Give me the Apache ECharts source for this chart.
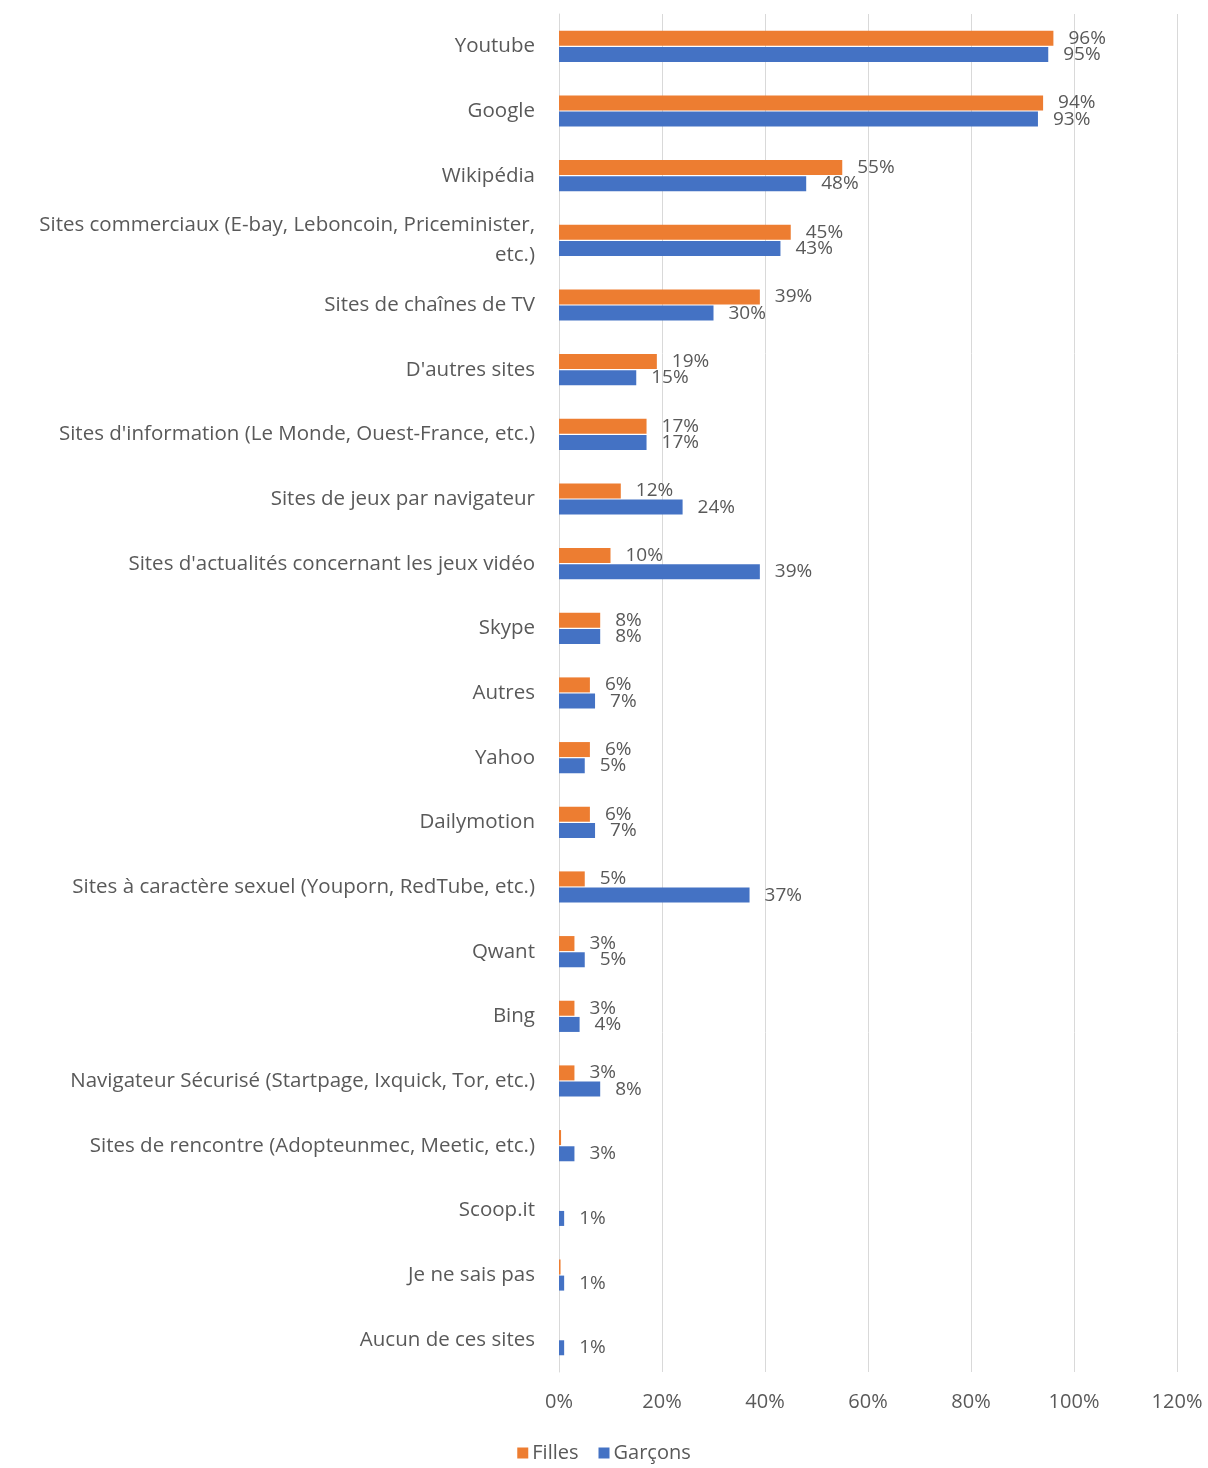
<!DOCTYPE html>
<html>
<head>
<meta charset="utf-8">
<script src="https://cdn.jsdelivr.net/npm/echarts@6/dist/echarts.min.js"></script>
<style>
html,body{margin:0;padding:0;background:#fff;}
#chart{width:1208px;height:1468px;}
</style>
</head>
<body>
<div id="chart"></div>
<script>
const categories = [
  "Youtube",
  "Google",
  "Wikipédia",
  "Sites commerciaux (E-bay, Leboncoin, Priceminister,\netc.)",
  "Sites de chaînes de TV",
  "D'autres sites",
  "Sites d'information (Le Monde, Ouest-France, etc.)",
  "Sites de jeux par navigateur",
  "Sites d'actualités concernant les jeux vidéo",
  "Skype",
  "Autres",
  "Yahoo",
  "Dailymotion",
  "Sites à caractère sexuel (Youporn, RedTube, etc.)",
  "Qwant",
  "Bing",
  "Navigateur Sécurisé (Startpage, Ixquick, Tor, etc.)",
  "Sites de rencontre (Adopteunmec, Meetic, etc.)",
  "Scoop.it",
  "Je ne sais pas",
  "Aucun de ces sites"
];
const filles  = [96, 94, 55, 45, 39, 19, 17, 12, 10, 8, 6, 6, 6, 5, 3, 3, 3, 0.4, 0, 0.3, 0];
const garcons = [95, 93, 48, 43, 30, 15, 17, 24, 39, 8, 7, 5, 7, 37, 5, 4, 8, 3, 1, 1, 1];
const xTicks = [0, 20, 40, 60, 80, 100, 120];

const FONT = "'Open Sans', sans-serif";
const TXT = "#595959";

const chart = echarts.init(document.getElementById('chart'));
function lbl() {
  return {
    show: true,
    position: 'right',
    distance: 15,
    color: TXT,
    fontFamily: FONT,
    fontSize: 19,
    formatter: p => p.value >= 1 ? p.value + '%' : ''
  };
}
chart.setOption({
  animation: false,
  textStyle: { fontFamily: FONT },
  grid: { left: 559, right: 31, top: 14, bottom: 96, containLabel: false },
  legend: {
    data: ['Filles', 'Garçons'],
    bottom: 0,
    left: 'center',
    itemWidth: 11,
    itemHeight: 11,
    itemGap: 20,
    icon: 'rect',
    textStyle: { color: TXT, fontSize: 20, fontFamily: FONT, padding: [0, 0, 0, -1] }
  },
  xAxis: {
    type: 'value',
    min: xTicks[0],
    max: xTicks[xTicks.length - 1],
    interval: 20,
    axisLine: { show: false },
    axisTick: { show: false },
    splitLine: { show: true, lineStyle: { color: '#d9d9d9', width: 1 } },
    axisLabel: { color: TXT, fontSize: 20, fontFamily: FONT, margin: 20, formatter: v => v + '%' }
  },
  yAxis: {
    type: 'category',
    inverse: true,
    data: categories,
    axisLine: { show: true, lineStyle: { color: '#d9d9d9', width: 1 } },
    axisTick: { show: false },
    axisLabel: { color: TXT, fontSize: 20.5, fontFamily: FONT, margin: 24, lineHeight: 30 }
  },
  series: [
    {
      name: 'Filles', type: 'bar', data: filles,
      barWidth: 15, barGap: '8%',
      itemStyle: { color: '#ED7D31' },
      label: lbl()
    },
    {
      name: 'Garçons', type: 'bar', data: garcons,
      barWidth: 15,
      itemStyle: { color: '#4472C4' },
      label: lbl()
    }
  ]
});
</script>
</body>
</html>
